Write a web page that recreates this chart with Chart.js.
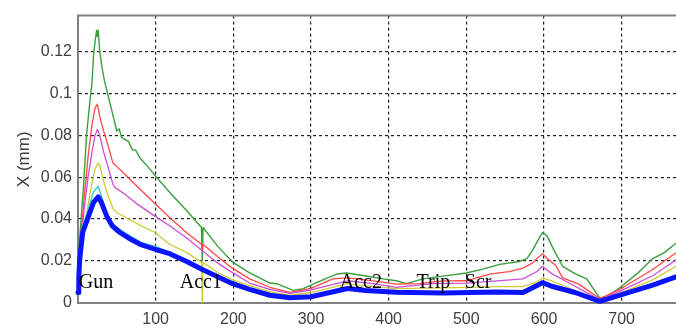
<!DOCTYPE html>
<html><head><meta charset="utf-8">
<script src="https://cdn.jsdelivr.net/npm/chart.js@4"></script>
<style>html,body{margin:0;padding:0;background:#fff}#wrap{width:676px;height:331px;position:relative}</style>
</head><body><div id="wrap"><canvas id="c" width="676" height="331"></canvas></div>
<script>
// ---- data ----
const xTicks = [100, 200, 300, 400, 500, 600, 700];
const yTicks = [0, 0.02, 0.04, 0.06, 0.08, 0.1, 0.12];
const yTickLabels = ['0', '0.02', '0.04', '0.06', '0.08', '0.1', '0.12'];
const yLabel = 'X (mm)';

const greenX = [0,3,7,11,15,18,20,22,24,25,26,28,31,34,38,42,46,50,53,56,60,65,70,74,80,90,101,120,140,159,160,161,180,199,221,247,256,277,290,307,333,346,371,393,410,423,444,470,500,520,543,569,578,585,591,598,604,612,624,640,655,665,672,685,698,720,740,755,770];
const greenY = [0.02,0.035,0.055,0.08,0.095,0.105,0.118,0.125,0.13,0.127,0.13,0.12,0.112,0.106,0.1,0.094,0.088,0.082,0.083,0.079,0.078,0.077,0.073,0.073,0.069,0.065,0.06,0.052,0.044,0.036,0.02,0.036,0.027,0.0195,0.0144,0.0095,0.0092,0.006,0.0068,0.0097,0.0138,0.0143,0.0129,0.0115,0.0106,0.0092,0.0115,0.0128,0.0143,0.016,0.0184,0.0198,0.0212,0.025,0.029,0.0336,0.032,0.0258,0.0175,0.014,0.0115,0.006,0.0023,0.004,0.0074,0.014,0.0212,0.024,0.0285];

const redX = [0,3,8,13,18,22,25,28,33,38,45,50,60,75,99,120,140,159,160,161,180,199,221,247,273,300,328,347,370,410,440,470,500,530,555,573,585,591,598,605,615,624,645,672,700,740,770];
const redY = [0.015,0.03,0.05,0.07,0.085,0.093,0.0948,0.089,0.082,0.076,0.0667,0.065,0.0615,0.056,0.0474,0.04,0.0335,0.028,0.025,0.028,0.022,0.0165,0.0115,0.0075,0.0051,0.007,0.0115,0.012,0.011,0.009,0.0092,0.0105,0.0106,0.0138,0.015,0.0166,0.019,0.0212,0.0235,0.021,0.018,0.012,0.009,0.002,0.007,0.016,0.024];

const magentaX = [0,3,8,13,18,22,25,28,33,38,45,48,60,75,99,118,140,159,180,199,221,247,273,300,347,380,410,457,500,540,573,591,598,610,630,672,700,740,770];
const magentaY = [0.012,0.025,0.045,0.06,0.072,0.08,0.0828,0.08,0.072,0.0657,0.0566,0.055,0.052,0.0475,0.0414,0.0368,0.031,0.0253,0.019,0.0145,0.0095,0.0065,0.0046,0.0062,0.0106,0.0092,0.0074,0.0092,0.0095,0.0105,0.0115,0.015,0.0175,0.014,0.01,0.0015,0.006,0.013,0.0205];

const yellowX = [0,3,8,13,18,22,26,28,33,38,45,50,63,80,99,118,140,159,160,161,180,199,221,247,273,300,347,380,410,470,540,573,591,598,610,630,672,700,740,770];
const yellowY = [0.01,0.02,0.035,0.047,0.057,0.064,0.0667,0.0657,0.058,0.052,0.045,0.043,0.0405,0.037,0.0336,0.028,0.024,0.0195,0,0.0193,0.0145,0.011,0.0083,0.0053,0.0037,0.005,0.0092,0.0078,0.0069,0.0072,0.0078,0.0078,0.01,0.012,0.0105,0.0075,0.001,0.005,0.011,0.0175];

const cyanX = [0,2,6,15,20,26,30,37,44,54,80,100,118,140,160,199,247,273,300,347,410,540,573,598,640,672,740,770];
const cyanY = [0.006,0.022,0.036,0.047,0.053,0.0557,0.051,0.043,0.038,0.035,0.029,0.027,0.024,0.0205,0.0165,0.0095,0.0035,0.002,0.0025,0.0063,0.0045,0.0045,0.0046,0.009,0.0045,0.0006,0.0085,0.0125];

const blueX = [0,1,2,6,15,20,26,30,37,44,54,65,80,100,118,140,160,180,199,221,247,273,300,330,347,370,410,470,540,573,591,598,610,640,672,700,740,770];
const blueY = [0.005,0.012,0.02,0.0336,0.0428,0.048,0.0506,0.048,0.0414,0.0368,0.0336,0.031,0.028,0.0255,0.0235,0.0198,0.016,0.0125,0.0092,0.0065,0.0037,0.0025,0.003,0.0055,0.0069,0.006,0.0051,0.0048,0.0052,0.005,0.0083,0.0097,0.008,0.005,0.0008,0.004,0.0085,0.0125];

const noteText = ['Gun', 'Acc1', 'Acc2', 'Trip', 'Scr'];
const noteX = [1, 131, 337, 436, 498];
const noteY = [0.0072, 0.0072, 0.0072, 0.0072, 0.0072];

// ---- chart ----
const pts = (xs, ys) => xs.map((x, i) => ({x: x, y: ys[i]}));
const mk = (label, xs, ys, color, w, extra) => Object.assign({
  label: label, data: pts(xs, ys), borderColor: color, backgroundColor: color,
  borderWidth: w, pointRadius: 0, tension: 0, fill: false,
  borderJoinStyle: 'round', borderCapStyle: 'round'
}, extra || {});

const tickFont = {family: "'Liberation Sans', Arial, sans-serif", size: 16};

const framePlugin = {
  id: 'frame',
  beforeDatasetsDraw(chart) {
    const {ctx, chartArea: a} = chart;
    ctx.save();
    ctx.strokeStyle = '#808080';
    ctx.lineWidth = 2;
    ctx.beginPath();
    ctx.moveTo(a.left - 1, a.top);
    ctx.lineTo(a.right, a.top);
    ctx.stroke();
    ctx.restore();
  },
  afterDatasetsDraw(chart) {
    const {ctx, scales} = chart;
    ctx.save();
    ctx.fillStyle = '#000';
    ctx.font = "20px 'Liberation Serif', 'Times New Roman', serif";
    ctx.textBaseline = 'alphabetic';
    ctx.textAlign = 'left';
    noteText.forEach((t, i) => {
      ctx.fillText(t, scales.x.getPixelForValue(noteX[i]), scales.y.getPixelForValue(noteY[i]));
    });
    ctx.restore();
  }
};

new Chart(document.getElementById('c'), {
  type: 'line',
  data: {
    datasets: [
      mk('blue', blueX, blueY, '#0a14ff', 5, {clip: false}),
      mk('cyan', cyanX, cyanY, '#3cd2d2', 1.5),
      mk('yellow', yellowX, yellowY, '#cccc3a', 1.3),
      mk('magenta', magentaX, magentaY, '#cc4fd6', 1.3),
      mk('red', redX, redY, '#ff4848', 1.3),
      mk('green', greenX, greenY, '#3a9e3a', 1.4)
    ]
  },
  options: {
    responsive: false,
    devicePixelRatio: 1,
    animation: false,
    layout: {padding: {top: 5, right: 0, left: 0, bottom: 0}},
    plugins: {legend: {display: false}, tooltip: {enabled: false}},
    scales: {
      x: {
        type: 'linear', min: 0, max: 770,
        afterBuildTicks: s => { s.ticks = xTicks.map(v => ({value: v})); },
        afterFit: s => { s.height = 28; },
        ticks: {font: tickFont, color: '#404040', padding: 7, maxRotation: 0, autoSkip: false,
                callback: v => String(v)},
        grid: {color: '#222', lineWidth: 1.2, drawTicks: false},
        border: {color: '#808080', width: 2, dash: [3, 3]}
      },
      y: {
        type: 'linear', min: 0, max: 0.137,
        afterBuildTicks: s => { s.ticks = yTicks.map(v => ({value: v})); },
        afterFit: s => { s.width = 78; },
        ticks: {font: tickFont, color: '#404040', padding: 6, autoSkip: false,
                callback: (v) => { const i = yTicks.indexOf(v); return i >= 0 ? yTickLabels[i] : ''; }},
        grid: {color: '#222', lineWidth: 1.2, drawTicks: false},
        border: {color: '#808080', width: 2, dash: [3, 3]},
        title: {display: true, text: yLabel, color: '#404040',
                font: {family: "'Liberation Sans', Arial, sans-serif", size: 17},
                padding: {top: 14, bottom: 0}}
      }
    }
  },
  plugins: [framePlugin]
});
</script></body></html>
